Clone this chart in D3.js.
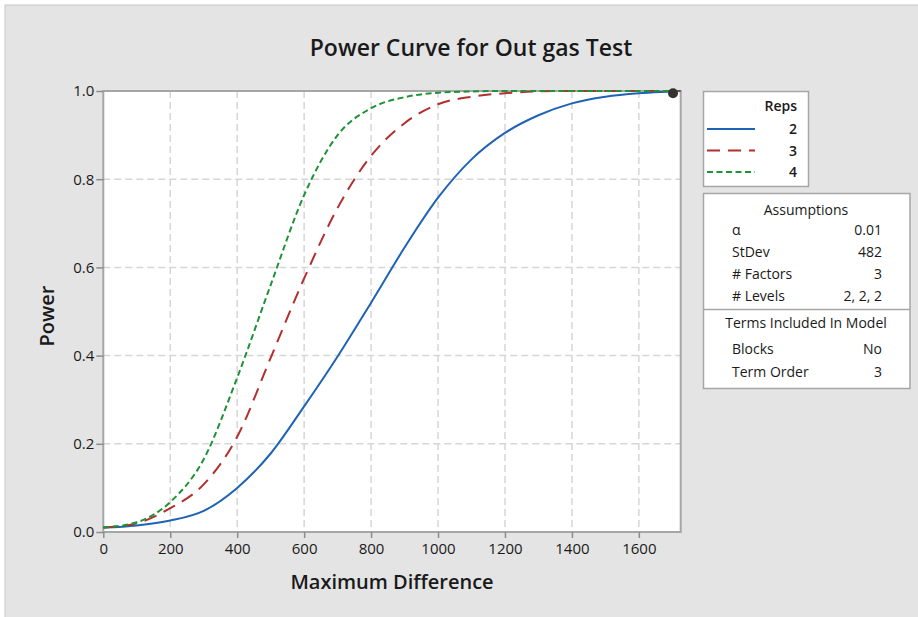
<!DOCTYPE html>
<html><head><meta charset="utf-8">
<script src="https://cdn.jsdelivr.net/npm/d3@7"></script>
<style>
body{margin:0;background:#fff;}
text{font-family:"Open Sans","Noto Sans",sans-serif;fill:#1a1a1a;}
</style></head>
<body><svg id="c" width="918" height="617"></svg>
<script>
const diffs = [0,100,200,300,400,500,600,700,800,900,1000,1100,1200,1300,1400,1500,1600,1700,1725];
const reps2 = [0.01,0.015,0.026,0.048,0.10,0.178,0.285,0.398,0.52,0.645,0.758,0.845,0.905,0.945,0.972,0.987,0.995,0.999,1.0];
const reps3 = [0.01,0.02,0.054,0.108,0.216,0.395,0.575,0.735,0.853,0.927,0.97,0.987,0.995,0.999,1.0,1.0,1.0,1.0,1.0];
const reps4 = [0.01,0.022,0.068,0.165,0.35,0.56,0.764,0.90,0.961,0.986,0.996,0.999,1.0,1.0,1.0,1.0,1.0,1.0,1.0];
const seriesNames = ["2","3","4"];
const xTicks = [0,200,400,600,800,1000,1200,1400,1600];
const yTicks = [0,0.2,0.4,0.6,0.8,1.0];
const targetPoint = [1702, 0.995];
const assumptions = [["α","0.01"],["StDev","482"],["# Factors","3"],["# Levels","2, 2, 2"]];
const terms = [["Blocks","No"],["Term Order","3"]];

const svg = d3.select("#c");
svg.append("rect").attr("x",5).attr("y",5).attr("width",920).attr("height",620)
  .attr("fill","#e4e4e4").attr("stroke","#c8c8c8");

const L=103.3, R=680.7, T=91, B=532;
const x = d3.scaleLinear().domain([0,1725]).range([L,R]);
const y = d3.scaleLinear().domain([0,1]).range([B,T]);

svg.append("rect").attr("x",L).attr("y",T).attr("width",R-L).attr("height",B-T).attr("fill","#ffffff");

// gridlines
const grid = svg.append("g").attr("stroke","#d6d6d6").attr("stroke-width",1.5).attr("stroke-dasharray","7,4");
xTicks.filter(d=>d>0).forEach(d=>grid.append("line").attr("x1",x(d)).attr("x2",x(d)).attr("y1",T).attr("y2",B));
yTicks.filter(d=>d>0&&d<1).forEach(d=>grid.append("line").attr("y1",y(d)).attr("y2",y(d)).attr("x1",L).attr("x2",R));

// frame
svg.append("rect").attr("x",L).attr("y",T).attr("width",R-L).attr("height",B-T)
  .attr("fill","none").attr("stroke","#a6a6a6").attr("stroke-width",2);

const xa = svg.append("g").attr("transform",`translate(0,${B})`)
  .call(d3.axisBottom(x).tickValues(xTicks).tickSize(6).tickPadding(5).tickFormat(d3.format("d")));
const ya = svg.append("g").attr("transform",`translate(${L},0)`)
  .call(d3.axisLeft(y).tickValues(yTicks).tickSize(7).tickPadding(2).tickFormat(d3.format(".1f")));
[xa,ya].forEach(a=>{
  a.select(".domain").remove();
  a.selectAll(".tick line").attr("stroke","#8c8c8c").attr("stroke-width",1.5);
  a.selectAll(".tick text").style("font-size","15px").style("font-weight","500").attr("fill","#1a1a1a");
});

const line = d3.line().x((d,i)=>x(diffs[i])).y(d=>y(d)).curve(d3.curveMonotoneX);
const styles = [
  {data:reps2,color:"#1f63b5",dash:null},
  {data:reps3,color:"#b22f2f",dash:"13,8"},
  {data:reps4,color:"#1e9236",dash:"6,3.5"}
];
styles.forEach(s=>{
  svg.append("path").attr("d",line(s.data)).attr("fill","none").attr("stroke",s.color)
    .attr("stroke-width",2).attr("stroke-dasharray",s.dash);
});
svg.append("circle").attr("cx",x(targetPoint[0])).attr("cy",y(targetPoint[1])).attr("r",5).attr("fill","#333");

// titles
svg.append("text").attr("x",471).attr("y",56).attr("text-anchor","middle")
  .style("font-size","23px").style("font-weight","600").text("Power Curve for Out gas Test");
svg.append("text").attr("x",392).attr("y",589).attr("text-anchor","middle")
  .style("font-size","20px").style("font-weight","600").text("Maximum Difference");
svg.append("text").attr("transform","translate(54,316) rotate(-90)").attr("text-anchor","middle")
  .style("font-size","20px").style("font-weight","600").text("Power");

// legend
const lg = svg.append("g");
lg.append("rect").attr("x",703.5).attr("y",91.5).attr("width",105).attr("height",95)
  .attr("fill","#fff").attr("stroke","#a6a6a6").attr("stroke-width",1.5);
lg.append("text").attr("x",797).attr("y",111).attr("text-anchor","end")
  .style("font-size","14px").style("font-weight","600").text("Reps");
styles.forEach((s,i)=>{
  const yy = 129 + i*21.5;
  lg.append("line").attr("x1",707).attr("x2",755).attr("y1",yy).attr("y2",yy)
    .attr("stroke",s.color).attr("stroke-width",2).attr("stroke-dasharray",s.dash);
  lg.append("text").attr("x",797).attr("y",yy+5).attr("text-anchor","end")
    .style("font-size","14px").style("font-weight","600").text(seriesNames[i]);
});

// assumptions box
const ab = svg.append("g");
ab.append("rect").attr("x",703.5).attr("y",193.5).attr("width",206.5).attr("height",195)
  .attr("fill","#fff").attr("stroke","#a6a6a6").attr("stroke-width",1.5);
ab.append("line").attr("x1",703.5).attr("x2",910).attr("y1",309.5).attr("y2",309.5)
  .attr("stroke","#a6a6a6").attr("stroke-width",1.5);
ab.append("text").attr("x",806).attr("y",215).attr("text-anchor","middle")
  .style("font-size","14px").style("font-weight","500").text("Assumptions");
assumptions.forEach((r,i)=>{
  const yy = 235 + i*22;
  ab.append("text").attr("x",732).attr("y",yy).style("font-size","14px").style("font-weight","500").text(r[0]);
  ab.append("text").attr("x",882).attr("y",yy).attr("text-anchor","end").style("font-size","14px").style("font-weight","500").text(r[1]);
});
ab.append("text").attr("x",806).attr("y",328).attr("text-anchor","middle")
  .style("font-size","14px").style("font-weight","500").text("Terms Included In Model");
terms.forEach((r,i)=>{
  const yy = 354 + i*23;
  ab.append("text").attr("x",732).attr("y",yy).style("font-size","14px").style("font-weight","500").text(r[0]);
  ab.append("text").attr("x",882).attr("y",yy).attr("text-anchor","end").style("font-size","14px").style("font-weight","500").text(r[1]);
});
</script></body></html>
